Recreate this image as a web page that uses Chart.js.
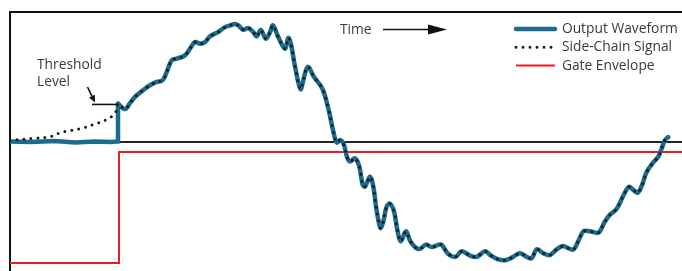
<!DOCTYPE html>
<html><head><meta charset="utf-8">
<script src="https://cdn.jsdelivr.net/npm/chart.js@4/dist/chart.umd.min.js"></script>
<style>html,body{margin:0;padding:0;background:#fff;overflow:hidden}</style>
</head><body>
<canvas id="c" width="682" height="271"></canvas>
<script>
// ---- data (time in arbitrary units, amplitude normalised) ----
const preTime   = [0, 20, 45, 65, 85, 100, 108, 108];
const preOutput = [0, -0.005, 0.005, -0.01, 0, -0.005, 0, 0.38];

const waveTime = [108,115,120,125,133,140,146.7,152.7,156.7,161.7,166.7,175,180,185,190,195,200,208,215,220,
  225,228.3,233.3,238.3,243.3,246.7,250.7,256,260,263,268.3,275,278.3,281,285,290.5,293.3,297.7,304,312.5,
  318.7,323,326.7,330.5,334,337,340,345,349.3,352.7,355,360,363.3,366,368.3,370.5,373.3,376.7,380,384,
  387.3,390.7,396,400,405.5,410,416,422,429,432,438.3,445.5,451.7,460,466.7,475,481,487.5,495,502.3,
  509.7,516.7,521.7,526.7,533.3,540,547,553,557,563.3,568.5,573.5,580,588.5,594,599,606.7,613.3,618.7,623,
  627.7,632.3,636.7,643.3,648.3,651.7,655,658.3];
const waveOutput = [0.38,0.325,0.385,0.448,0.515,0.565,0.598,0.615,0.698,0.815,0.832,0.865,0.932,0.998,0.982,0.998,1.055,1.098,1.148,1.165,
  1.18,1.165,1.122,1.14,1.098,1.055,1.12,1.032,1.098,1.165,1.048,0.932,1.04,0.975,0.755,0.525,0.615,0.75,0.648,0.527,
  0.315,0.115,-0.01,0.015,-0.035,-0.155,-0.202,-0.168,-0.252,-0.435,-0.452,-0.355,-0.452,-0.652,-0.785,-0.87,-0.802,-0.652,-0.625,-0.702,
  -0.885,-1.002,-0.902,-0.995,-1.065,-1.078,-1.035,-1.06,-1.035,-1.04,-1.13,-1.158,-1.102,-1.145,-1.158,-1.102,-1.145,-1.18,-1.192,-1.163,
  -1.122,-1.158,-1.172,-1.082,-1.122,-1.14,-1.08,-1.05,-1.065,-1.085,-0.995,-0.902,-0.902,-0.915,-0.82,-0.745,-0.675,-0.545,-0.455,-0.482,
  -0.515,-0.43,-0.305,-0.21,-0.152,-0.07,0.015,0.045];

const sidePreTime   = [0, 5, 23, 40, 48.3, 56.7, 71.7, 86.7, 96.7, 105, 107];
const sidePreValues = [0.01, 0.015, 0.032, 0.048, 0.082, 0.105, 0.132, 0.182, 0.222, 0.282, 0.355];

const gateTime   = [0, 109, 109, 672];
const gateValues = [-1.22, -1.22, -0.105, -0.105];

const thresholdLevel = 0.372;
const seriesLabels = ['Output Waveform', 'Side-Chain Signal', 'Gate Envelope'];

// ---- build ----
const pts = (xs, ys) => xs.map((x, i) => ({x, y: ys[i]}));
const BLUE = '#1a6b8e', DOT = '#1c1c1c', RED = '#ec1c24', TXT = '#3a3a3a';
const FONT = '"Open Sans", sans-serif';

const outStyle = {borderColor: BLUE, borderWidth: 4.5, pointRadius: 0, borderCapStyle: 'round', borderJoinStyle: 'round', fill: false};

const annot = {
  id: 'annot',
  afterLayout(chart) {
    const lg = chart.legend;
    if (lg) { lg.left = 511.5; lg.top = 17.6; lg.right = 682; lg.bottom = 271; }
  },
  afterDatasetsDraw(chart) {
    const {ctx, scales: {x, y}} = chart;
    ctx.save();
    // threshold marker
    const ty = y.getPixelForValue(thresholdLevel);
    ctx.strokeStyle = '#111'; ctx.lineWidth = 1.6; ctx.lineCap = 'butt';
    ctx.beginPath(); ctx.moveTo(x.getPixelForValue(82), ty); ctx.lineTo(x.getPixelForValue(107), ty); ctx.stroke();
    // small arrow pointing at the threshold line
    const sx = 87.5, sy = 87, tx = 95, tyy = ty - 2;
    const dx = tx - sx, dy = tyy - sy, L = Math.hypot(dx, dy), ux = dx / L, uy = dy / L;
    const hl = 7, hw = 3.2;
    ctx.beginPath(); ctx.moveTo(sx, sy); ctx.lineTo(tx - ux * hl, tyy - uy * hl); ctx.stroke();
    ctx.fillStyle = '#111';
    ctx.beginPath(); ctx.moveTo(tx, tyy);
    ctx.lineTo(tx - ux * hl - uy * hw, tyy - uy * hl + ux * hw);
    ctx.lineTo(tx - ux * hl + uy * hw, tyy - uy * hl - ux * hw);
    ctx.closePath(); ctx.fill();
    // texts
    ctx.font = '13.8px ' + FONT; ctx.fillStyle = TXT; ctx.textBaseline = 'alphabetic'; ctx.textAlign = 'left';
    ctx.fillText('Threshold', 37, 69);
    ctx.fillText('Level', 37, 86);
    ctx.fillText('Time', 340, 34);
    // time arrow
    ctx.strokeStyle = '#111'; ctx.lineWidth = 1.6;
    ctx.beginPath(); ctx.moveTo(383, 29.5); ctx.lineTo(430, 29.5); ctx.stroke();
    ctx.fillStyle = '#111';
    ctx.beginPath(); ctx.moveTo(447, 29.5); ctx.lineTo(428, 24.5); ctx.lineTo(428, 34.5); ctx.closePath(); ctx.fill();
    ctx.restore();
  }
};

new Chart(document.getElementById('c'), {
  type: 'line',
  data: {
    datasets: [
      Object.assign({label: seriesLabels[0], data: pts(waveTime, waveOutput), tension: 0.35, order: 2}, outStyle),
      {label: seriesLabels[1], data: pts(sidePreTime.concat(waveTime), sidePreValues.concat(waveOutput)),
       borderColor: DOT, borderWidth: 3, borderDash: [0, 7], borderCapStyle: 'round', pointRadius: 0, tension: 0.35, order: 1, fill: false},
      {label: seriesLabels[2], data: pts(gateTime, gateValues), borderColor: RED, borderWidth: 2, pointRadius: 0, tension: 0, order: 3, fill: false},
      Object.assign({label: '', data: pts(preTime, preOutput), tension: 0, order: 2}, outStyle, {borderJoinStyle: 'miter'})
    ]
  },
  options: {
    responsive: false, animation: false, devicePixelRatio: 1,
    layout: {padding: {left: 10, top: 12, right: 0, bottom: 0}},
    scales: {
      x: {type: 'linear', position: 'top', min: 0, max: 672,
          ticks: {display: false}, grid: {display: false, drawTicks: false},
          border: {display: true, color: '#111', width: 2}},
      y: {type: 'linear', position: 'left', min: -1.3, max: 1.3,
          afterBuildTicks: s => { s.ticks = [{value: 0}]; },
          ticks: {display: false}, grid: {drawTicks: false, color: '#222', lineWidth: 2},
          border: {display: true, color: '#111', width: 2}}
    },
    plugins: {
      tooltip: {enabled: false},
      legend: {
        position: 'chartArea', align: 'start',
        labels: {
          usePointStyle: true, pointStyle: 'line', pointStyleWidth: 39, padding: 4.5,
          font: {family: FONT, size: 13.8}, color: TXT,
          generateLabels: chart => chart.data.datasets.map((ds, i) => ({
            text: ds.label, datasetIndex: i, hidden: false, fontColor: TXT,
            strokeStyle: ds.borderColor, lineWidth: ds.borderWidth, lineDash: ds.borderDash || [],
            lineCap: ds.borderCapStyle || 'butt', pointStyle: 'line', fillStyle: 'transparent'
          })).filter(it => it.text)
        }
      }
    }
  },
  plugins: [annot]
});
</script>
</body></html>
